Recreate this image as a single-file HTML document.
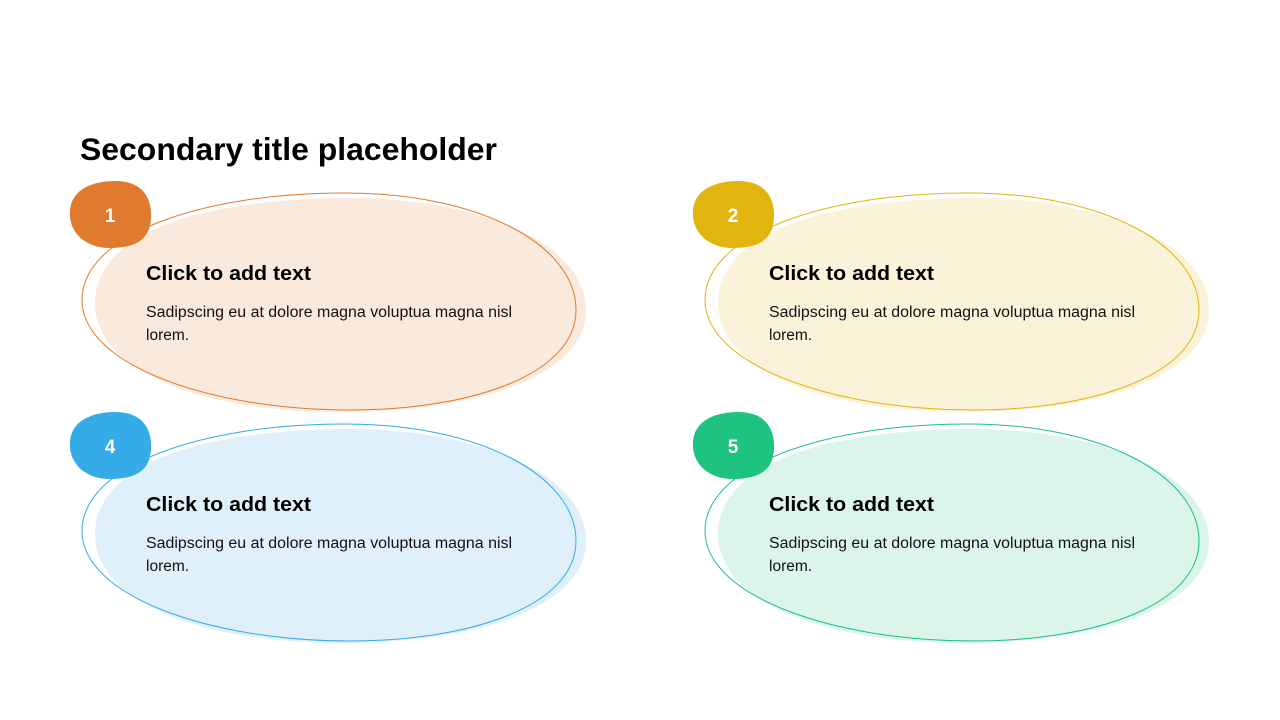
<!DOCTYPE html>
<html><head><meta charset="utf-8"><style>
html,body{margin:0;padding:0;background:#fff;width:1280px;height:720px;overflow:hidden}
svg{display:block;font-family:"Liberation Sans",Arial,sans-serif}
</style></head><body>
<svg width="1280" height="720" viewBox="0 0 1280 720">
<text x="80" y="160" font-size="31.5" font-weight="bold" fill="#000" textLength="417" lengthAdjust="spacingAndGlyphs">Secondary title placeholder</text>
<defs>
<g id="card">
  <path d="M95,300 C100,225 220,200 340,198 C470,196 586,240 586,310 C586,375 480,412 340,412 C200,412 92,370 95,300 Z" fill="var(--f)"/>
  <path d="M82,300 C82,235 200,193 345,193 C480,193 576,245 576,310 C576,375 470,410 350,410 C210,410 82,365 82,300 Z" fill="none" stroke="var(--s)" stroke-width="1"/>
  <path d="M70,210 C72,188 95,181 115,181 C140,181 152,195 151,218 C150,240 135,248 110,248 C85,248 68,232 70,210 Z" fill="var(--s)"/>
  <text x="146" y="280" font-size="20.5" font-weight="bold" fill="#000" textLength="165" lengthAdjust="spacingAndGlyphs">Click to add text</text>
  <text x="146" y="317" font-size="15.5" fill="#111" textLength="366" lengthAdjust="spacingAndGlyphs">Sadipscing eu at dolore magna voluptua magna nisl</text>
  <text x="146" y="340" font-size="15.5" fill="#111">lorem.</text>
</g>
</defs>
<g style="--f:#F9EADD;--s:#E07A2E"><use href="#card"/><text x="110" y="222" font-size="19" font-weight="bold" fill="#fff" text-anchor="middle">1</text></g>
<g style="--f:#FBF2DA;--s:#E2B40E" transform="translate(623,0)"><use href="#card"/><text x="110" y="222" font-size="19" font-weight="bold" fill="#fff" text-anchor="middle">2</text></g>
<g style="--f:#DFF0FA;--s:#35ABE8" transform="translate(0,231)"><use href="#card"/><text x="110" y="222" font-size="19" font-weight="bold" fill="#fff" text-anchor="middle">4</text></g>
<g style="--f:#DBF5EA;--s:#1DC37F" transform="translate(623,231)"><use href="#card"/><text x="110" y="222" font-size="19" font-weight="bold" fill="#fff" text-anchor="middle">5</text></g>
</svg>
</body></html>
